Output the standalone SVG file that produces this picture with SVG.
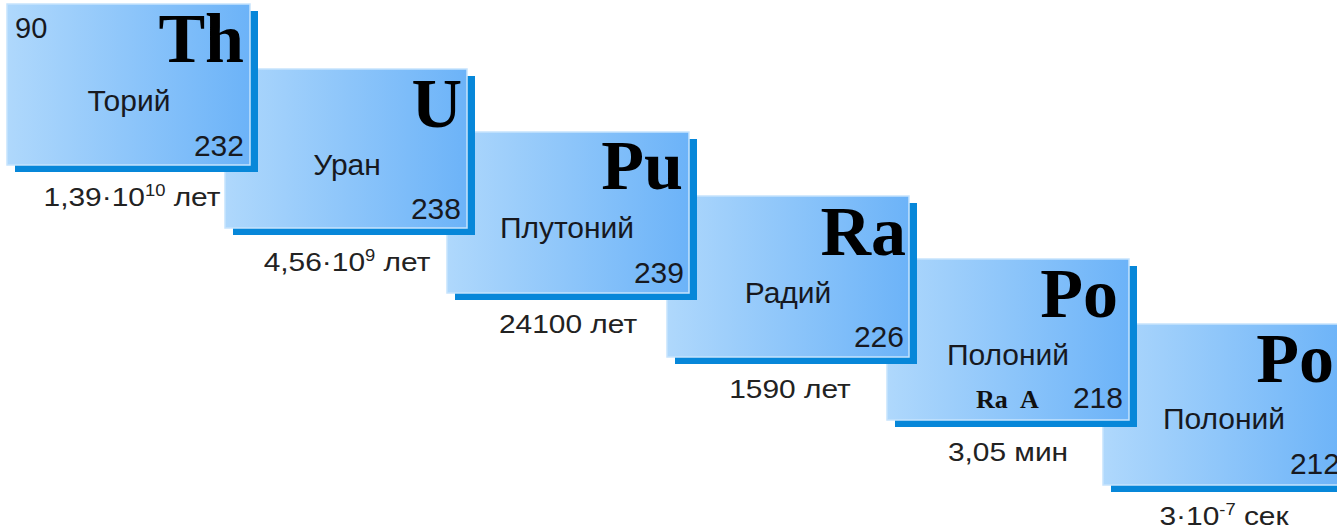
<svg xmlns="http://www.w3.org/2000/svg" width="1337" height="528" viewBox="0 0 1337 528">
  <defs>
    <linearGradient id="cardFill" x1="0" y1="0" x2="1" y2="0">
      <stop offset="0" stop-color="#afd8fc"/>
      <stop offset="1" stop-color="#6cb3f8"/>
    </linearGradient>
  </defs>
  <style>
    .shadow { fill: #0787d9; }
    .face { fill: url(#cardFill); stroke: #c6e3fd; stroke-width: 1.5; }
    .sym { font-family: "Liberation Serif", "Times New Roman", serif; font-weight: bold; font-size: 70px; fill: #000; text-anchor: end; }
    .name { font-family: "Liberation Sans", Arial, sans-serif; font-size: 30px; fill: #17191f; text-anchor: middle; }
    .mass { font-family: "Liberation Sans", Arial, sans-serif; font-size: 30px; fill: #17191f; text-anchor: end; }
    .num { font-family: "Liberation Sans", Arial, sans-serif; font-size: 29px; fill: #17191f; }
    .alias { font-family: "Liberation Serif", "Times New Roman", serif; font-weight: bold; font-size: 26px; fill: #111; }
    .life { font-family: "Liberation Sans", Arial, sans-serif; font-size: 26px; fill: #222; text-anchor: middle; }
    .sup { font-size: 16px; }
  </style>

  <!-- cards are stacked so that each earlier element sits on top of the next one -->
  <g id="card-po212" transform="translate(1103,324)">
    <rect class="shadow" x="8" y="7" width="242" height="161"/>
    <rect class="face" x="0" y="0" width="242" height="161"/>
    <text class="sym" x="231" y="58">Po</text>
    <text class="name" x="121" y="105">Полоний</text>
    <text class="mass" x="237" y="150">212</text>
    <text class="life" transform="translate(121,201) scale(1.15,1)">3·10<tspan class="sup" dy="-10">-7</tspan><tspan dy="10"> сек</tspan></text>
  </g>

  <g id="card-po218" transform="translate(887,259)">
    <rect class="shadow" x="8" y="7" width="242" height="161"/>
    <rect class="face" x="0" y="0" width="242" height="161"/>
    <text class="sym" x="231" y="58">Po</text>
    <text class="name" x="121" y="106">Полоний</text>
    <text class="alias" y="149"><tspan x="89">Ra</tspan><tspan x="133">A</tspan></text>
    <text class="mass" x="236" y="149">218</text>
    <text class="life" transform="translate(121,202) scale(1.15,1)">3,05 мин</text>
  </g>

  <g id="card-ra" transform="translate(667,196)">
    <rect class="shadow" x="8" y="7" width="242" height="161"/>
    <rect class="face" x="0" y="0" width="242" height="161"/>
    <text class="sym" x="239" y="59">Ra</text>
    <text class="name" x="121" y="107">Радий</text>
    <text class="mass" x="237" y="151">226</text>
    <text class="life" transform="translate(123,202) scale(1.15,1)">1590 лет</text>
  </g>

  <g id="card-pu" transform="translate(447,132)">
    <rect class="shadow" x="8" y="7" width="242" height="161"/>
    <rect class="face" x="0" y="0" width="242" height="161"/>
    <text class="sym" x="236" y="57">Pu</text>
    <text class="name" x="120" y="106">Плутоний</text>
    <text class="mass" x="237" y="151">239</text>
    <text class="life" transform="translate(121,201) scale(1.15,1)">24100 лет</text>
  </g>

  <g id="card-u" transform="translate(225,69)">
    <rect class="shadow" x="8" y="7" width="242" height="159"/>
    <rect class="face" x="0" y="0" width="242" height="159"/>
    <text class="sym" x="237" y="58">U</text>
    <text class="name" x="122" y="106">Уран</text>
    <text class="mass" x="236" y="150">238</text>
    <text class="life" transform="translate(122,202) scale(1.15,1)">4,56·10<tspan class="sup" dy="-10">9</tspan><tspan dy="10"> лет</tspan></text>
  </g>

  <g id="card-th" transform="translate(7,4)">
    <rect class="shadow" x="8" y="7" width="243" height="161"/>
    <rect class="face" x="0" y="0" width="243" height="161"/>
    <text class="num" x="8" y="34">90</text>
    <text class="sym" x="237" y="58">Th</text>
    <text class="name" x="122" y="107">Торий</text>
    <text class="mass" x="237" y="152">232</text>
    <text class="life" transform="translate(125,202) scale(1.15,1)">1,39·10<tspan class="sup" dy="-10">10</tspan><tspan dy="10"> лет</tspan></text>
  </g>
</svg>
